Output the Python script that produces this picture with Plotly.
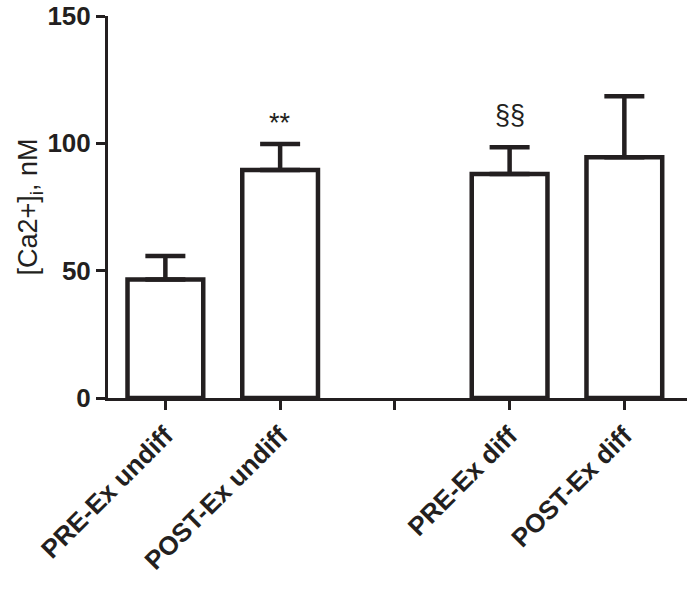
import plotly.graph_objects as go

categories = ["PRE-Ex undiff", "POST-Ex undiff", "PRE-Ex diff", "POST-Ex diff"]
axis_order = ["PRE-Ex undiff", "POST-Ex undiff", " ", "PRE-Ex diff", "POST-Ex diff"]
means = [46.5, 89.5, 88.0, 94.5]
sem = [9.3, 10.2, 10.5, 24.0]
marks = ["", "**", "§§", ""]
mark_y = [0, 108, 111, 0]
yticks = [0, 50, 100, 150]

ink = "#231f20"
font_family = "Liberation Sans, Arial"

fig = go.Figure()
fig.add_trace(go.Bar(
    x=categories, y=means,
    width=0.66,
    marker=dict(color="white", line=dict(color=ink, width=4.5)),
    error_y=dict(type="data", array=sem, arrayminus=[0]*len(sem), symmetric=False,
                 color=ink, thickness=4.5, width=20),
    showlegend=False,
))

for c, m, yy in zip(categories, marks, mark_y):
    if m:
        fig.add_annotation(x=c, y=yy, text=m, showarrow=False,
                           font=dict(family=font_family, size=27, color=ink),
                           yanchor="middle")

fig.update_layout(
    width=687, height=589,
    margin=dict(l=108, r=0, t=16, b=191),
    plot_bgcolor="white", paper_bgcolor="white",
    bargap=0.34,
)
fig.update_xaxes(
    type="category", categoryorder="array", categoryarray=axis_order,
    tickvals=axis_order, ticktext=axis_order,
    range=[-0.5, 4.546],
    showline=True, linecolor=ink, linewidth=3,
    ticks="outside", ticklen=9, tickwidth=3, tickcolor=ink,
    tickangle=-45,
    tickfont=dict(family=font_family, size=26, color=ink, weight="bold"),
    showgrid=False, zeroline=False,
)
fig.update_yaxes(
    range=[0, 150], tickvals=yticks,
    showline=True, linecolor=ink, linewidth=3,
    ticks="outside", ticklen=9, tickwidth=3, tickcolor=ink,
    ticklabeloverflow="allow",
    tickfont=dict(family=font_family, size=26, color=ink, weight="bold"),
    title=dict(text="[Ca2+]<sub>i</sub>, nM", standoff=2,
               font=dict(family=font_family, size=27, color=ink)),
    showgrid=False, zeroline=False,
)

fig.write_html("out.html", config={"displayModeBar": False},
               post_script="document.body.style.margin='0';")
